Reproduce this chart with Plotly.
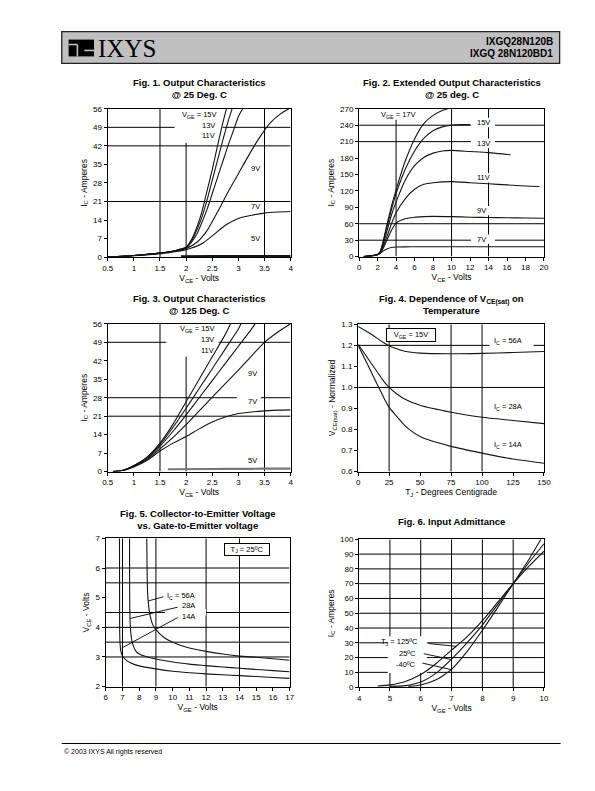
import plotly.graph_objects as go

W, H = 595, 791
FONT = "Liberation Sans, Arial, Helvetica, sans-serif"
INK = "#141414"

# ---------------- Fig. 1  Output characteristics @ 25 C ----------------
f1_x_ticks = [0.5, 1, 1.5, 2, 2.5, 3, 3.5, 4]
f1_y_ticks = [0, 7, 14, 21, 28, 35, 42, 49, 56]
f1_vce_15 = [0.5, 1.0, 1.5, 1.8, 2.0, 2.1, 2.2, 2.3, 2.4, 2.5, 2.6, 2.7, 2.77]
f1_ic_15 = [0, 0.6, 1.5, 2.5, 3.8, 6.5, 11, 17, 25, 33, 42, 50.5, 56]
f1_vce_13 = [0.5, 1.0, 1.5, 1.8, 2.0, 2.1, 2.2, 2.3, 2.4, 2.5, 2.6, 2.7, 2.8, 2.88]
f1_ic_13 = [0, 0.6, 1.5, 2.5, 3.6, 6.0, 10, 15, 21.5, 29, 36.5, 44, 51, 56]
f1_vce_11 = [0.5, 1.0, 1.5, 1.8, 2.0, 2.1, 2.2, 2.3, 2.4, 2.5, 2.6, 2.7, 2.8, 2.9, 3.0, 3.08]
f1_ic_11 = [0, 0.6, 1.5, 2.4, 3.4, 5.5, 8.5, 13, 18, 24, 30, 36, 42, 47.5, 53, 56]
f1_vce_9 = [0.5, 1.0, 1.5, 1.8, 2.0, 2.2, 2.4, 2.6, 2.8, 3.0, 3.2, 3.4, 3.6, 3.8, 3.97]
f1_ic_9 = [0, 0.6, 1.5, 2.3, 3.2, 5.5, 10, 17, 24.5, 31.5, 38.5, 45, 50.5, 54, 56]
f1_vce_7 = [0.5, 1.0, 1.5, 2.0, 2.3, 2.5, 2.75, 3.0, 3.25, 3.5, 3.75, 4.0]
f1_ic_7 = [0, 0.5, 1.3, 2.8, 5, 8, 12, 14.6, 15.8, 16.6, 17, 17.2]
f1_vce_5 = [1.9, 2.5, 3.0, 3.5, 4.0]
f1_ic_5 = [0.2, 0.25, 0.25, 0.25, 0.25]

# ---------------- Fig. 2  Extended output characteristics ----------------
f2_x_ticks = [0, 2, 4, 6, 8, 10, 12, 14, 16, 18, 20]
f2_y_ticks = [0, 30, 60, 90, 120, 150, 180, 210, 240, 270]
f2_vce_17 = [0.5, 1, 1.5, 2, 2.3, 2.6, 3, 3.5, 4, 5, 6, 7, 8, 9, 9.6]
f2_ic_17 = [0, 0.8, 1.8, 4, 10, 28, 58, 92, 122, 175, 215, 243, 258, 267, 270]
f2_vce_15 = [0.5, 1, 1.5, 2, 2.3, 2.6, 3, 3.5, 4, 5, 6, 7, 8, 9, 10, 11, 12]
f2_ic_15 = [0, 0.8, 1.8, 4, 9, 26, 54, 86, 115, 160, 193, 216, 230, 237, 240, 241, 241]
f2_vce_13 = [0.5, 1, 1.5, 2, 2.3, 2.6, 3, 3.5, 4, 5, 6, 7, 8, 9, 10, 12, 14, 16.4]
f2_ic_13 = [0, 0.8, 1.8, 4, 8, 22, 46, 76, 100, 140, 166, 181, 189, 193, 194, 192, 190, 186]
f2_vce_11 = [0.5, 1, 1.5, 2, 2.3, 2.6, 3, 3.5, 4, 5, 6, 7, 8, 10, 12, 14, 16, 18, 19.5]
f2_ic_11 = [0, 0.8, 1.8, 4, 7, 18, 36, 60, 80, 106, 123, 132, 135, 137, 135, 133, 131, 129, 128]
f2_vce_9 = [0.5, 1, 1.5, 2, 2.3, 2.6, 3, 3.5, 4, 5, 6, 7, 8, 10, 12, 14, 16, 18, 20]
f2_ic_9 = [0, 0.8, 1.8, 3.5, 6, 15, 30, 48, 61, 69, 72, 73, 73.5, 73, 72, 71.5, 71, 70.5, 70]
f2_vce_7 = [0.5, 1, 1.5, 2, 2.5, 3, 3.5, 4, 5, 6, 10, 15, 20]
f2_ic_7 = [0, 0.5, 1.5, 3.5, 9, 14, 16.5, 17.5, 17.8, 18, 18, 18, 18]

# ---------------- Fig. 3  Output characteristics @ 125 C ----------------
f3_x_ticks = [0.5, 1, 1.5, 2, 2.5, 3, 3.5, 4]
f3_y_ticks = [0, 7, 14, 21, 28, 35, 42, 49, 56]
f3_vce_15 = [0.6, 0.8, 1.0, 1.25, 1.5, 1.75, 2.0, 2.25, 2.5, 2.75, 2.85]
f3_ic_15 = [0, 0.5, 2.3, 5.5, 10.8, 18, 26.5, 35, 43.5, 52, 56]
f3_vce_13 = [0.6, 0.8, 1.0, 1.25, 1.5, 1.75, 2.0, 2.25, 2.5, 2.75, 3.0, 3.05]
f3_ic_13 = [0, 0.5, 2.2, 5.3, 10.2, 16.8, 24, 31.5, 39, 46.5, 54, 56]
f3_vce_11 = [0.6, 0.8, 1.0, 1.25, 1.5, 1.75, 2.0, 2.25, 2.5, 2.75, 3.0, 3.25, 3.32]
f3_ic_11 = [0, 0.5, 2.1, 5.0, 9.6, 15.3, 21.5, 28, 34.5, 41, 47.5, 54, 56]
f3_vce_9 = [0.6, 0.8, 1.0, 1.25, 1.5, 1.75, 2.0, 2.25, 2.5, 2.75, 3.0, 3.25, 3.5, 3.75, 4.0]
f3_ic_9 = [0, 0.5, 2.0, 4.6, 8.6, 13, 17.8, 23, 28.2, 33.3, 38.5, 43.8, 49, 52.8, 56]
f3_vce_7 = [0.6, 0.8, 1.0, 1.25, 1.5, 1.75, 2.0, 2.25, 2.5, 2.75, 3.0, 3.25, 3.5, 3.75, 4.0]
f3_ic_7 = [0, 0.5, 1.8, 4.2, 7.8, 10.8, 13.3, 16.2, 18.8, 20.7, 22, 22.6, 23, 23.3, 23.4]
f3_vce_5 = [1.65, 2.5, 3.0, 3.5, 4.0]
f3_ic_5 = [0.9, 1.0, 1.05, 1.1, 1.1]

# ---------------- Fig. 4  V_CE(sat) vs temperature ----------------
f4_x_ticks = [0, 25, 50, 75, 100, 125, 150]
f4_y_ticks = [0.6, 0.7, 0.8, 0.9, 1.0, 1.1, 1.2, 1.3]
f4_y_text = ["0.6", "0.7", "0.8", "0.9", "1.0", "1.1", "1.2", "1.3"]
f4_tj = [0, 10, 20, 25, 30, 37.5, 50, 75, 100, 125, 150]
f4_ic56 = [1.29, 1.255, 1.215, 1.198, 1.186, 1.172, 1.163, 1.160, 1.162, 1.166, 1.171]
f4_ic28 = [1.205, 1.12, 1.035, 1.0, 0.975, 0.945, 0.915, 0.882, 0.858, 0.843, 0.828]
f4_ic14 = [1.2, 1.08, 0.96, 0.905, 0.87, 0.82, 0.767, 0.72, 0.688, 0.66, 0.64]

# ---------------- Fig. 5  V_CE vs V_GE ----------------
f5_x_ticks = [6, 7, 8, 9, 10, 11, 12, 13, 14, 15, 16, 17]
f5_y_ticks = [2, 3, 4, 5, 6, 7]
f5_vge_56 = [8.45, 8.47, 8.5, 8.55, 8.65, 8.8, 9.0, 9.5, 10, 11, 12, 13, 14, 15, 16, 17]
f5_vce_56 = [7.0, 6.0, 5.2, 4.8, 4.4, 4.1, 3.92, 3.65, 3.5, 3.3, 3.19, 3.1, 3.03, 2.99, 2.94, 2.89]
f5_vge_28 = [7.42, 7.43, 7.45, 7.5, 7.6, 7.8, 8.0, 8.5, 9, 10, 11, 12, 13, 14, 15, 16, 17]
f5_vce_28 = [7.0, 5.0, 4.3, 3.8, 3.45, 3.2, 3.1, 3.0, 2.93, 2.83, 2.76, 2.71, 2.66, 2.62, 2.58, 2.54, 2.5]
f5_vge_14 = [6.82, 6.83, 6.85, 6.9, 7.0, 7.2, 7.5, 8, 9, 10, 11, 12, 13, 14, 15, 16, 17]
f5_vce_14 = [7.0, 4.0, 3.5, 3.2, 3.03, 2.9, 2.8, 2.7, 2.6, 2.52, 2.47, 2.43, 2.4, 2.37, 2.34, 2.31, 2.28]

# ---------------- Fig. 6  Input admittance ----------------
f6_x_ticks = [4, 5, 6, 7, 8, 9, 10]
f6_y_ticks = [0, 10, 20, 30, 40, 50, 60, 70, 80, 90, 100]
f6_vge_125 = [4.6, 5.0, 5.5, 6.0, 6.5, 7.0, 7.5, 8.0, 8.5, 9.0, 9.5, 10.0]
f6_ic_125 = [0.8, 1.5, 3.8, 8.5, 16, 25, 34, 45, 57.5, 70, 81.5, 92]
f6_vge_25 = [5.0, 5.5, 6.0, 6.5, 7.0, 7.5, 8.0, 8.5, 9.0, 9.5, 10.0]
f6_ic_25 = [0.5, 1.0, 3.5, 9.5, 19, 30, 42, 56, 70, 84, 97]
f6_vge_m40 = [5.6, 6.0, 6.5, 7.0, 7.5, 8.0, 8.5, 9.0, 9.5, 9.9]
f6_ic_m40 = [0.5, 1.5, 5, 12, 24, 38.5, 54, 70, 86, 100]

fig = go.Figure()
shapes = []
annots = []


def refs(i):
    return ("x" if i == 1 else f"x{i}", "y" if i == 1 else f"y{i}")


def setup_axes(i, box, xr, yr, xt, yt, xtitle, ytitle, ytext=None):
    x0, x1, y0, y1 = box
    xa, ya = refs(i)
    common = dict(showline=True, linecolor="black", linewidth=1.2, mirror=True,
                  ticks="outside", ticklen=3, tickwidth=0.8, tickcolor="black",
                  showgrid=False, zeroline=False, fixedrange=True,
                  tickfont=dict(size=8, family=FONT, color="black"))
    fig.layout["xaxis" + ("" if i == 1 else str(i))] = dict(
        common, domain=[x0 / W, x1 / W], range=list(xr), anchor=ya,
        tickvals=xt, ticktext=[str(v) for v in xt],
        title=dict(text=xtitle, font=dict(size=8.5, family=FONT, color="black"), standoff=2))
    fig.layout["yaxis" + ("" if i == 1 else str(i))] = dict(
        common, domain=[1 - y1 / H, 1 - y0 / H], range=list(yr), anchor=xa,
        tickvals=yt, ticktext=ytext if ytext else [str(v) for v in yt],
        title=dict(text=ytitle, font=dict(size=8.5, family=FONT, color="black"), standoff=4))


def curve(i, xs, ys, width=1.1, color=INK):
    xa, ya = refs(i)
    fig.add_trace(go.Scatter(x=xs, y=ys, mode="lines", xaxis=xa, yaxis=ya,
                             line=dict(color=color, width=width, shape="spline", smoothing=0.6),
                             hoverinfo="skip", showlegend=False))


def hline(i, y, xa0, xa1):
    xa, ya = refs(i)
    shapes.append(dict(type="line", xref=xa, yref=ya, x0=xa0, x1=xa1, y0=y, y1=y,
                       line=dict(color="black", width=1), layer="below"))


def vline(i, x, ya0, ya1):
    xa, ya = refs(i)
    shapes.append(dict(type="line", xref=xa, yref=ya, x0=x, x1=x, y0=ya0, y1=ya1,
                       line=dict(color="black", width=1), layer="below"))


def whitebox(i, bx0, bx1, by0, by1):
    xa, ya = refs(i)
    shapes.append(dict(type="rect", xref=xa, yref=ya, x0=bx0, x1=bx1, y0=by0, y1=by1,
                       fillcolor="white", line=dict(width=0), layer="below"))


def leader(i, lx0, ly0, lx1, ly1):
    xa, ya = refs(i)
    shapes.append(dict(type="line", xref=xa, yref=ya, x0=lx0, y0=ly0, x1=lx1, y1=ly1,
                       line=dict(color="black", width=0.9), layer="above"))


def label(i, x, y, text, anchor="left", size=7.5, **kw):
    xa, ya = refs(i)
    annots.append(dict(xref=xa, yref=ya, x=x, y=y, text=text, showarrow=False,
                       xanchor=anchor, yanchor="middle",
                       font=dict(size=size, family=FONT, color="black"), **kw))


def title(cx, cy, text):
    annots.append(dict(xref="paper", yref="paper", x=cx / W, y=1 - cy / H, text=text,
                       showarrow=False, xanchor="center", yanchor="middle",
                       font=dict(size=9.5, family=FONT, color="black")))


VOLTS_CE = "V<sub>CE</sub> - Volts"
AMPS = "I<sub>C</sub> - Amperes"

# ---- Fig 1
setup_axes(1, (104, 291, 106, 256), (0.5, 4), (0, 56), f1_x_ticks, f1_y_ticks, VOLTS_CE, AMPS)
hline(1, 21, 0.5, 4); hline(1, 42, 0.5, 4); hline(1, 49, 0.5, 4)
vline(1, 1.5, 0, 56); vline(1, 2, 0, 56); vline(1, 3.5, 0, 56)
whitebox(1, 1.78, 2.7, 43.2, 56)
for xs, ys in [(f1_vce_15, f1_ic_15), (f1_vce_13, f1_ic_13), (f1_vce_11, f1_ic_11),
               (f1_vce_9, f1_ic_9), (f1_vce_7, f1_ic_7)]:
    curve(1, xs, ys)
curve(1, f1_vce_5, f1_ic_5, width=2.6)
label(1, 2.63, 53.8, "V<sub>GE</sub> = 15V", anchor="right")
label(1, 2.6, 49.7, "13V", anchor="right")
label(1, 2.6, 45.8, "11V", anchor="right")
label(1, 3.2, 33.5, "9V"); label(1, 3.2, 19, "7V"); label(1, 3.2, 7, "5V")
title(197.5, 85.5, "<b>Fig. 1. Output Characteristics<br>@ 25 Deg. C</b>")

# ---- Fig 2
setup_axes(2, (361, 550, 106, 255.5), (0, 20), (0, 270), f2_x_ticks, f2_y_ticks, VOLTS_CE, AMPS)
hline(2, 30, 0, 20); hline(2, 60, 0, 20); hline(2, 210, 0, 20); hline(2, 240, 0, 20)
vline(2, 4, 0, 270); vline(2, 10, 0, 270); vline(2, 14, 0, 270)
whitebox(2, 1.9, 6.9, 250, 270)
for yc in [245, 207, 144, 84, 32]:
    whitebox(2, 12.1, 14.7, yc - 8.5, yc + 8.5)
for xs, ys in [(f2_vce_17, f2_ic_17), (f2_vce_15, f2_ic_15), (f2_vce_13, f2_ic_13),
               (f2_vce_11, f2_ic_11), (f2_vce_9, f2_ic_9), (f2_vce_7, f2_ic_7)]:
    curve(2, xs, ys)
label(2, 2.2, 258, "V<sub>GE</sub> = 17V")
label(2, 12.5, 245, "15V"); label(2, 12.5, 207, "13V"); label(2, 12.5, 144, "11V")
label(2, 12.5, 84, "9V"); label(2, 12.5, 32, "7V")
title(455.5, 85.5, "<b>Fig. 2. Extended Output Characteristics<br>@ 25 deg. C</b>")

# ---- Fig 3
setup_axes(3, (104, 291, 323.5, 473), (0.5, 4), (0, 56), f3_x_ticks, f3_y_ticks, VOLTS_CE, AMPS)
hline(3, 21, 0.5, 4); hline(3, 28, 0.5, 4); hline(3, 49, 0.5, 4)
vline(3, 1.5, 0, 56); vline(3, 2, 0, 56); vline(3, 3.5, 0, 56)
whitebox(3, 1.62, 2.62, 43.5, 56)
whitebox(3, 2.97, 3.43, 24.2, 29.5)
for xs, ys in [(f3_vce_15, f3_ic_15), (f3_vce_13, f3_ic_13), (f3_vce_11, f3_ic_11),
               (f3_vce_9, f3_ic_9), (f3_vce_7, f3_ic_7)]:
    curve(3, xs, ys)
curve(3, f3_vce_5, f3_ic_5, width=2.2, color="#777777")
label(3, 2.6, 54.1, "V<sub>GE</sub> = 15V", anchor="right")
label(3, 2.57, 50.1, "13V", anchor="right")
label(3, 2.57, 46.0, "11V", anchor="right")
label(3, 3.15, 37.2, "9V"); label(3, 3.15, 26.4, "7V"); label(3, 3.15, 4.2, "5V")
title(197.5, 304, "<b>Fig. 3. Output Characteristics<br>@ 125 Deg. C</b>")

# ---- Fig 4
setup_axes(4, (360, 550, 324, 473), (0, 150), (0.6, 1.3), f4_x_ticks, f4_y_ticks,
           "T<sub>J</sub> - Degrees Centigrade", "V<sub>CE(sat)</sub> - Normalized", ytext=f4_y_text)
hline(4, 1.0, 0, 150); hline(4, 1.2, 0, 150)
vline(4, 25, 0.6, 1.3); vline(4, 75, 0.6, 1.3); vline(4, 100, 0.6, 1.3)
whitebox(4, 106, 141.5, 1.197, 1.245)
curve(4, f4_tj, f4_ic56); curve(4, f4_tj, f4_ic28); curve(4, f4_tj, f4_ic14)
label(4, 108, 1.222, "I<sub>C</sub> = 56A")
label(4, 108, 0.905, "I<sub>C</sub> = 28A")
label(4, 108, 0.727, "I<sub>C</sub> = 14A")
label(4, 42.5, 1.247, "V<sub>GE</sub> = 15V", anchor="center", bgcolor="white",
      bordercolor="black", borderwidth=1, width=46, height=10)
title(455, 304, "<b>Fig. 4. Dependence of V<sub>CE(sat)</sub> on<br>Temperature</b>")

# ---- Fig 5
setup_axes(5, (102, 290, 540.5, 690.5), (6, 17), (2, 7), f5_x_ticks, f5_y_ticks,
           "V<sub>GE</sub> - Volts", VOLTS_CE)
for yv in [3, 3.5, 4, 4.5, 5.5, 6]:
    hline(5, yv, 6, 17)
for xv in [7, 9, 12, 14]:
    vline(5, xv, 2, 7)
whitebox(5, 9.55, 12.0, 4.4, 4.62)
curve(5, f5_vge_56, f5_vce_56); curve(5, f5_vge_28, f5_vce_28); curve(5, f5_vge_14, f5_vce_14)
leader(5, 8.55, 4.89, 9.45, 5.03)
leader(5, 7.47, 4.30, 10.3, 4.68)
leader(5, 6.95, 3.30, 10.3, 4.33)
label(5, 9.55, 5.06, "I<sub>C</sub> = 56A")
label(5, 10.45, 4.74, "28A")
label(5, 10.45, 4.38, "14A")
label(5, 14.45, 6.62, "T<sub>J</sub> = 25ºC", anchor="center", bgcolor="white",
      bordercolor="black", borderwidth=1, width=42, height=9)
title(196, 521.5, "<b>Fig. 5. Collector-to-Emitter Voltage<br>vs. Gate-to-Emitter voltage</b>")

# ---- Fig 6
setup_axes(6, (361, 550, 541.5, 691), (4, 10), (0, 100), f6_x_ticks, f6_y_ticks,
           "V<sub>GE</sub> - Volts", AMPS)
for yv in [10, 20, 30, 40, 50, 60, 70, 80, 90]:
    hline(6, yv, 4, 10)
for xv in [5, 6, 7, 8, 9]:
    vline(6, xv, 0, 100)
whitebox(6, 4.93, 6.2, 9.6, 34.5)
curve(6, f6_vge_125, f6_ic_125); curve(6, f6_vge_25, f6_ic_25); curve(6, f6_vge_m40, f6_ic_m40)
leader(6, 6.25, 29.5, 7.15, 27.6)
leader(6, 6.1, 22.6, 6.97, 18.8)
leader(6, 6.05, 16.3, 7.0, 11.8)
label(6, 5.97, 30.2, "T<sub>J</sub> = 125ºC", anchor="right")
label(6, 5.9, 22.8, "25ºC", anchor="right")
label(6, 5.9, 15.3, "-40ºC", anchor="right")
title(455.5, 523, "<b>Fig. 6. Input Admittance</b>")

# ---- page header & footer
shapes.append(dict(type="rect", xref="paper", yref="paper", x0=57 / W, x1=566 / W,
                   y0=1 - 60 / H, y1=1 - 28 / H, fillcolor="#c0c0c0",
                   line=dict(color="#222222", width=1.3), layer="above"))
shapes.append(dict(type="rect", xref="paper", yref="paper", x0=64 / W, x1=90 / W,
                   y0=1 - 53 / H, y1=1 - 36 / H, fillcolor="black", line=dict(width=0), layer="above"))
shapes.append(dict(type="line", xref="paper", yref="paper", x0=73 / W, x1=73 / W,
                   y0=1 - 53 / H, y1=1 - 41 / H, line=dict(color="#c0c0c0", width=1.6), layer="above"))
shapes.append(dict(type="line", xref="paper", yref="paper", x0=64 / W, x1=73 / W,
                   y0=1 - 41 / H, y1=1 - 41 / H, line=dict(color="#c0c0c0", width=1.6), layer="above"))
shapes.append(dict(type="line", xref="paper", yref="paper", x0=80 / W, x1=90 / W,
                   y0=1 - 47 / H, y1=1 - 47 / H, line=dict(color="#c0c0c0", width=1.6), layer="above"))
annots.append(dict(xref="paper", yref="paper", x=92 / W, y=1 - 45 / H, text="IXYS",
                   showarrow=False, xanchor="left", yanchor="middle",
                   font=dict(size=25, family="Liberation Serif, Times New Roman, serif", color="black")))
annots.append(dict(xref="paper", yref="paper", x=561 / W, y=1 - 37.5 / H, text="<b>IXGQ28N120B</b>",
                   showarrow=False, xanchor="right", yanchor="middle",
                   font=dict(size=10, family=FONT, color="black")))
annots.append(dict(xref="paper", yref="paper", x=561 / W, y=1 - 50.5 / H, text="<b>IXGQ 28N120BD1</b>",
                   showarrow=False, xanchor="right", yanchor="middle",
                   font=dict(size=10, family=FONT, color="black")))
shapes.append(dict(type="line", xref="paper", yref="paper", x0=57 / W, x1=567 / W,
                   y0=1 - 748 / H, y1=1 - 748 / H, line=dict(color="black", width=1), layer="above"))
annots.append(dict(xref="paper", yref="paper", x=57 / W, y=1 - 757 / H, text="© 2003 IXYS All rights reserved",
                   showarrow=False, xanchor="left", yanchor="middle",
                   font=dict(size=7, family=FONT, color="black")))

fig.update_layout(width=W, height=H, margin=dict(l=0, r=0, t=0, b=0),
                  paper_bgcolor="white", plot_bgcolor="white",
                  font=dict(family=FONT, color="black"),
                  shapes=shapes, annotations=annots, showlegend=False)

fig.write_html("out.html", config={"displayModeBar": False},
               post_script="document.body.style.margin='0';")
